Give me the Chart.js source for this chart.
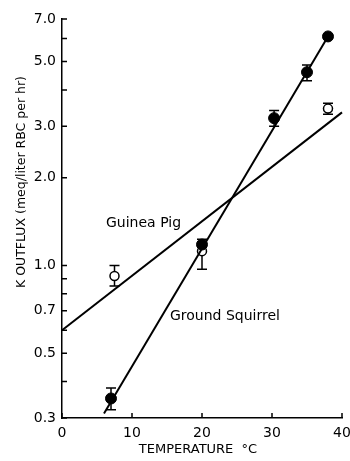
<!DOCTYPE html>
<html>
<head>
<meta charset="UTF-8">
<script src="https://cdn.jsdelivr.net/npm/chart.js@4.4.0/dist/chart.umd.min.js"></script>
<style>
  html, body { margin: 0; padding: 0; background: #fff; }
  #wrap { width: 350px; height: 461px; position: relative; }
</style>
</head>
<body>
<div id="wrap"><canvas id="chart"></canvas></div>
<script>
// ground squirrel (filled circles)
const gsTemp = [7, 20, 30.3, 35, 38];
const gsFlux = [0.35, 1.18, 3.2, 4.6, 6.1];
const gsLo   = [0.32, 1.18, 3.0, 4.3, null];
const gsHi   = [0.38, 1.23, 3.4, 4.87, null];

// guinea pig (open circles)
const gpTemp = [7.5, 20, 38];
const gpFlux = [0.92, 1.12, 3.45];
const gpLo   = [0.85, 0.97, 3.3];
const gpHi   = [1.0, 1.12, 3.6];

// fitted lines
const gsLineX = [6, 38];
const gsLineY = [0.311, 6.1];
const gpLineX = [0, 40];
const gpLineY = [0.6, 3.35];

const xTicks = [0, 10, 20, 30, 40];
const yTicks = [0.3, 0.4, 0.5, 0.6, 0.7, 0.8, 0.9, 1.0, 2.0, 3.0, 4.0, 5.0, 6.0, 7.0];
const yLabels = [0.3, 0.5, 0.7, 1.0, 2.0, 3.0, 5.0, 7.0];

const FONT = '"DejaVu Sans", sans-serif';
const toPts = (xs, ys) => xs.map((x, i) => ({ x: x, y: ys[i] }));

// error bars (drawn under the markers)
const errBars = {
  id: 'errBars',
  beforeDatasetsDraw(chart) {
    const ctx = chart.ctx;
    const xs = chart.scales.x, ys = chart.scales.y;
    ctx.save();
    ctx.strokeStyle = '#000';
    ctx.lineWidth = 1.5;
    const bars = (t, val, lo, hi) => {
      t.forEach((x, i) => {
        if (lo[i] == null || hi[i] == null) return;
        const px = xs.getPixelForValue(x);
        const y1 = ys.getPixelForValue(lo[i]), y2 = ys.getPixelForValue(hi[i]);
        ctx.beginPath();
        ctx.moveTo(px, y1); ctx.lineTo(px, y2);
        if (lo[i] !== val[i]) { ctx.moveTo(px - 5, y1); ctx.lineTo(px + 5, y1); }
        if (hi[i] !== val[i]) { ctx.moveTo(px - 5, y2); ctx.lineTo(px + 5, y2); }
        ctx.stroke();
      });
    };
    bars(gsTemp, gsFlux, gsLo, gsHi);
    bars(gpTemp, gpFlux, gpLo, gpHi);
    ctx.restore();
  }
};

// inward ticks, titles and line labels
const extras = {
  id: 'extras',
  afterDatasetsDraw(chart) {
    const ctx = chart.ctx;
    const xs = chart.scales.x, ys = chart.scales.y;
    ctx.save();
    ctx.strokeStyle = '#000';
    const left = xs.left, bottom = ys.bottom;
    ctx.lineWidth = 1.5;
    ctx.beginPath();
    yTicks.forEach(v => {
      const py = ys.getPixelForValue(v);
      ctx.moveTo(left, py); ctx.lineTo(left + 5, py);
    });
    xTicks.forEach(v => {
      const px = xs.getPixelForValue(v);
      ctx.moveTo(px, bottom); ctx.lineTo(px, bottom - 5);
    });
    ctx.stroke();

    ctx.fillStyle = '#000';
    ctx.font = '14px ' + FONT;
    ctx.textAlign = 'left';
    ctx.textBaseline = 'middle';
    ctx.fillText('Guinea Pig', 106, 223);
    ctx.fillText('Ground Squirrel', 170, 316);

    ctx.font = '13px ' + FONT;
    ctx.textAlign = 'center';
    ctx.fillText('TEMPERATURE  \u00B0C', 198, 450);

    ctx.translate(22, 182);
    ctx.rotate(-Math.PI / 2);
    ctx.font = '12.5px ' + FONT;
    ctx.fillText('K OUTFLUX (meq/liter RBC per hr)', 0, 0);
    ctx.restore();
  }
};

new Chart(document.getElementById('chart'), {
  type: 'scatter',
  data: {
    datasets: [
      { data: toPts(gpLineX, gpLineY), showLine: true, borderColor: '#000', borderWidth: 2, pointRadius: 0 },
      { data: toPts(gsLineX, gsLineY), showLine: true, borderColor: '#000', borderWidth: 2, pointRadius: 0 },
      { data: toPts(gsTemp, gsFlux), pointRadius: 5.5, pointBackgroundColor: '#000', pointBorderColor: '#000', pointBorderWidth: 1 },
      { data: toPts(gpTemp, gpFlux), pointRadius: 4.5, pointBackgroundColor: '#fff', pointBorderColor: '#000', pointBorderWidth: 1.5 }
    ]
  },
  options: {
    responsive: true,
    maintainAspectRatio: false,
    animation: false,
    clip: false,
    layout: { padding: { left: 0, top: 19, right: 0, bottom: 0 } },
    plugins: { legend: { display: false }, tooltip: { enabled: false } },
    scales: {
      x: {
        type: 'linear', min: 0, max: 40,
        afterBuildTicks: s => { s.ticks = xTicks.map(v => ({ value: v })); },
        afterFit: s => { s.height = 43; s.paddingRight = 8; },
        grid: { drawOnChartArea: false, drawTicks: false },
        border: { color: '#000', width: 1.5 },
        ticks: { color: '#000', font: { family: FONT, size: 14 }, padding: 7 }
      },
      y: {
        type: 'logarithmic', min: 0.3, max: 7,
        afterBuildTicks: s => { s.ticks = yTicks.map(v => ({ value: v })); },
        afterFit: s => { s.width = 62; },
        grid: { drawOnChartArea: false, drawTicks: false },
        border: { color: '#000', width: 1.5 },
        ticks: {
          color: '#000', font: { family: FONT, size: 14 }, padding: 6,
          callback: v => yLabels.some(l => Math.abs(l - v) < 1e-6) ? v.toFixed(1) : ''
        }
      }
    }
  },
  plugins: [errBars, extras]
});
</script>
</body>
</html>
